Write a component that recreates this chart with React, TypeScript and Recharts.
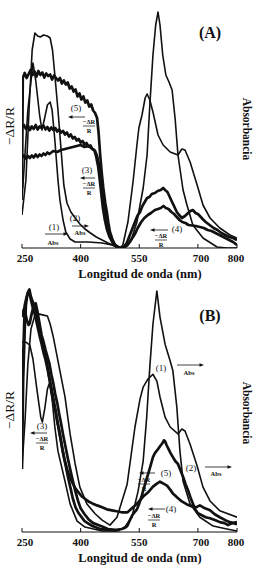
import React from 'react';
import { LineChart, Line, XAxis, YAxis } from 'recharts';

// ---------- data (wavelength nm, signal in arbitrary units) ----------
const xTicks = [250, 400, 550, 700, 800];
const yTicks = [1, 2, 3, 4];

// Panel A
const a1Abs: [number, number][] = [[250,1.06],[265,2.86],[278,3.8],[285,3.46],[295,2.76],[301,2.46],[308,2.7],[315,2.96],[322,3.02],[327,2.86],[334,2.26],[342,1.46],[347,1.06],[355,0.66],[362,0.42],[373,0.28],[386,0.22],[420,0.22],[455,0.2],[480,0.16],[500,0.1],[513,0.12],[521,0.16],[531,0.3],[544,0.62],[552,0.96],[560,1.3],[570,1.96],[577,2.96],[585,3.96],[592,4.56],[598,4.82],[603,4.56],[610,3.96],[618,3.56],[626,3.42],[634,3.26],[642,2.66],[649,1.96],[662,1.26],[672,0.96],[687,0.56],[713,0.3],[749,0.12],[774,0.1],[800,0.1]];
const a2Abs: [number, number][] = [[250,0.76],[260,1.46],[268,2.86],[276,4.06],[283,4.4],[290,4.34],[297,4.32],[305,4.36],[315,4.34],[322,4.3],[328,4.06],[334,3.56],[342,2.86],[350,2.06],[357,1.36],[365,1.0],[375,0.82],[386,0.7],[398,0.58],[411,0.48],[425,0.4],[440,0.32],[455,0.26],[470,0.2],[488,0.14],[500,0.1],[508,0.16],[521,0.62],[534,1.42],[544,2.16],[549,2.5],[557,2.76],[565,3.1],[570,3.18],[577,3.06],[585,2.82],[598,2.36],[611,2.16],[629,2.02],[649,1.96],[659,2.08],[667,2.06],[680,1.82],[698,1.36],[713,0.96],[731,0.7],[756,0.5],[782,0.36],[800,0.3]];
const a3Refl: [number, number][] = [[250,2.5],[255,2.56],[260,2.48],[265,2.55],[270,2.46],[275,2.53],[280,2.48],[285,2.56],[290,2.47],[295,2.53],[300,2.5],[305,2.55],[310,2.47],[315,2.52],[320,2.45],[325,2.51],[330,2.46],[335,2.5],[340,2.43],[345,2.47],[350,2.41],[355,2.44],[360,2.37],[365,2.41],[370,2.33],[375,2.37],[380,2.29],[385,2.32],[390,2.25],[395,2.28],[400,2.21],[405,2.24],[410,2.17],[415,2.2],[420,2.13],[425,2.15],[430,2.08],[435,2.06],[440,1.92],[445,1.72],[449,1.46],[453,1.18],[457,0.9],[462,0.66],[467,0.48],[474,0.32],[482,0.2],[490,0.14],[500,0.1]];
const a4Refl: [number, number][] = [[250,1.9],[255,1.95],[260,1.89],[265,1.94],[270,1.9],[275,1.95],[280,1.91],[285,1.97],[290,1.92],[295,1.97],[300,1.94],[305,1.99],[310,1.96],[315,2.01],[320,1.98],[330,2.04],[340,2.02],[350,2.06],[360,2.08],[370,2.1],[380,2.12],[390,2.14],[400,2.16],[410,2.12],[420,2.14],[430,2.08],[437,2.04],[442,1.94],[447,1.76],[451,1.54],[455,1.28],[459,1.02],[464,0.78],[470,0.52],[476,0.34],[484,0.2],[492,0.12],[500,0.1],[513,0.12],[520,0.16],[526,0.22],[532,0.3],[539,0.38],[546,0.5],[555,0.62],[563,0.7],[572,0.76],[580,0.8],[590,0.86],[598,0.88],[605,0.9],[612,0.94],[618,0.9],[625,0.88],[632,0.82],[639,0.78],[646,0.72],[653,0.66],[660,0.62],[668,0.6],[676,0.56],[685,0.55],[695,0.54],[705,0.52],[715,0.5],[725,0.46],[735,0.44],[745,0.4],[760,0.34],[775,0.28],[790,0.22],[800,0.16]];
const a5Refl: [number, number][] = [[250,1.3],[252,3.5],[257,3.6],[262,3.5],[267,3.58],[272,3.66],[277,3.56],[282,3.63],[287,3.53],[292,3.64],[297,3.56],[302,3.61],[307,3.51],[312,3.59],[317,3.54],[322,3.57],[327,3.47],[332,3.55],[337,3.5],[342,3.45],[347,3.5],[352,3.39],[357,3.45],[362,3.37],[367,3.41],[372,3.29],[377,3.33],[382,3.23],[387,3.27],[392,3.13],[397,3.19],[402,3.07],[407,3.13],[412,3.01],[417,3.05],[422,2.93],[427,2.97],[432,2.85],[437,2.8],[442,2.7],[446,2.4],[450,1.96],[454,1.6],[458,1.3],[463,1.0],[467,0.82],[471,0.6],[475,0.42],[481,0.28],[488,0.16],[500,0.1],[510,0.12],[518,0.2],[526,0.36],[532,0.48],[539,0.62],[545,0.74],[552,0.82],[558,0.94],[564,1.02],[570,1.1],[576,1.12],[582,1.18],[590,1.2],[597,1.24],[605,1.26],[611,1.3],[616,1.26],[622,1.22],[628,1.12],[634,1.02],[640,0.92],[646,0.82],[652,0.76],[659,0.7],[667,0.74],[675,0.8],[681,0.84],[687,0.86],[694,0.8],[700,0.78],[705,0.74],[712,0.68],[720,0.62],[730,0.56],[740,0.5],[750,0.46],[760,0.4],[770,0.36],[780,0.32],[790,0.3],[800,0.26]];

// Panel B
const b1Abs: [number, number][] = [[250,3.85],[260,3.85],[270,3.79],[278,3.51],[288,2.9],[298,2.33],[302,2.23],[308,2.49],[315,2.9],[320,3.02],[327,2.7],[334,2.13],[342,1.64],[360,1.03],[373,0.57],[391,0.22],[411,0.1],[455,0.02],[490,0.02],[505,0.06],[515,0.12],[531,0.3],[547,0.83],[560,1.44],[569,2.33],[577,3.35],[585,4.22],[595,4.89],[603,4.36],[616,3.81],[629,3.47],[636,3.27],[646,2.54],[654,1.64],[662,1.03],[680,0.57],[705,0.3],[739,0.12],[774,0.06],[800,0.02]];
const b2Abs: [number, number][] = [[250,1.32],[258,2.29],[265,3.41],[273,4.12],[283,4.4],[295,4.42],[305,4.4],[315,4.38],[322,4.22],[330,3.96],[342,3.47],[360,2.74],[373,1.99],[386,1.38],[398,0.91],[416,0.57],[437,0.37],[455,0.24],[475,0.14],[493,0.3],[519,0.97],[539,2.13],[552,2.7],[560,2.94],[572,3.1],[585,3.2],[595,3.06],[603,2.74],[616,2.33],[629,2.13],[649,1.99],[659,2.09],[667,2.05],[680,1.78],[698,1.34],[713,0.91],[731,0.63],[756,0.43],[800,0.3]];
const b3Refl: [number, number][] = [[250,1.28],[253,3.1],[257,4.12],[260,4.6],[263,4.78],[266,4.86],[269,4.92],[272,4.8],[276,4.7],[280,4.62],[284,4.5],[288,4.38],[292,4.18],[296,4.08],[300,3.9],[305,3.78],[310,3.56],[315,3.38],[320,3.12],[325,2.9],[330,2.64],[335,2.48],[340,2.24],[345,2.06],[350,1.84],[355,1.6],[362,1.34],[368,1.1],[375,0.86],[380,0.68],[387,0.5],[395,0.38],[410,0.22],[430,0.12],[450,0.06],[480,0.04],[500,0.04]];
const b4Refl: [number, number][] = [[250,2.9],[254,3.8],[257,4.6],[261,4.74],[265,4.86],[268,4.9],[272,4.74],[276,4.6],[280,4.5],[285,4.34],[290,4.16],[295,3.98],[300,3.82],[305,3.64],[310,3.5],[315,3.32],[320,3.12],[325,2.92],[330,2.72],[335,2.5],[340,2.28],[346,2.0],[352,1.74],[358,1.5],[365,1.28],[372,1.12],[380,0.98],[387,0.88],[395,0.8],[403,0.72],[410,0.68],[420,0.62],[430,0.58],[442,0.54],[455,0.5],[467,0.46],[480,0.44],[492,0.42],[505,0.4],[520,0.4],[534,0.5],[547,0.6],[560,0.72],[572,0.8],[585,0.92],[595,0.98],[603,1.02],[612,0.98],[621,0.94],[629,0.86],[636,0.78],[647,0.7],[659,0.62],[672,0.56],[685,0.52],[695,0.5],[705,0.54],[718,0.48],[731,0.44],[743,0.36],[756,0.3],[770,0.24],[782,0.2],[800,0.16]];
const b5Refl: [number, number][] = [[250,4.36],[254,4.5],[257,4.56],[260,4.38],[263,4.28],[267,4.2],[270,4.24],[274,4.4],[278,4.54],[282,4.62],[285,4.64],[289,4.5],[292,4.36],[296,4.18],[300,4.0],[305,3.86],[310,3.7],[315,3.56],[320,3.42],[325,3.2],[330,3.02],[335,2.8],[340,2.62],[345,2.4],[350,2.2],[355,1.98],[360,1.78],[366,1.54],[373,1.28],[380,1.04],[386,0.84],[393,0.64],[400,0.48],[410,0.36],[420,0.26],[432,0.18],[445,0.14],[458,0.1],[470,0.06],[490,0.04],[505,0.06],[512,0.08],[519,0.12],[526,0.24],[532,0.34],[538,0.4],[544,0.46],[550,0.58],[556,0.72],[560,0.84],[566,1.0],[572,1.16],[578,1.32],[585,1.52],[590,1.6],[596,1.66],[603,1.74],[609,1.8],[613,1.86],[616,1.84],[620,1.76],[625,1.68],[630,1.6],[636,1.52],[642,1.44],[649,1.38],[655,1.26],[662,1.12],[668,0.98],[675,0.84],[681,0.7],[687,0.58],[693,0.46],[700,0.38],[710,0.34],[720,0.3],[731,0.28],[745,0.24],[756,0.2],[768,0.18],[777,0.14],[788,0.18],[800,0.2]];

// ---------- presentation ----------
const SERIF = "'Liberation Serif','Times New Roman',serif";
const INK = '#111';

type Pt = { x: number; v: number };
const toPts = (arr: [number, number][]): Pt[] => arr.map(([x, v]) => ({ x, v }));

const XTick = (props: any) => {
  const { x, y, payload } = props;
  const shift = payload.value === 250 ? 3 : payload.value === 700 ? 3 : payload.value === 800 ? -1 : 0;
  return (
    <text x={x + shift} y={y} dy="0.71em" textAnchor="middle" fontFamily={SERIF} fontWeight="bold" fontSize={11} fill={INK}>
      {payload.value}
    </text>
  );
};
const NoTick = () => <g />;

type Series = { data: Pt[]; noisy: boolean };

function Panel({ series, yDomain, top }: { series: Series[]; yDomain: [number, number]; top: number }) {
  return (
    <LineChart width={257} height={284} margin={{ top, right: 20, bottom: 0, left: 22 }}>
      <XAxis xAxisId="b" type="number" dataKey="x" domain={[250, 800]} ticks={xTicks} interval={0}
        allowDataOverflow height={36} tickSize={-4} tickMargin={10} tick={XTick} stroke={INK} />
      <XAxis xAxisId="t" orientation="top" type="number" dataKey="x" domain={[250, 800]} ticks={xTicks} interval={0}
        allowDataOverflow height={0} tickSize={-4} tick={NoTick} stroke={INK} />
      <YAxis yAxisId="l" type="number" domain={yDomain} ticks={yTicks} interval={0} allowDataOverflow
        width={0} tickSize={-4} tick={NoTick} stroke={INK} />
      <YAxis yAxisId="r" orientation="right" type="number" domain={yDomain} ticks={yTicks} interval={0} allowDataOverflow
        width={0} tickSize={-4} tick={NoTick} stroke={INK} />
      {series.map((s, i) => (
        <Line key={i} xAxisId="b" yAxisId="l" data={s.data} dataKey="v" type="linear" dot={false}
          stroke={INK} strokeWidth={s.noisy ? 2.7 : 1.6} strokeLinejoin="round" isAnimationActive={false} />
      ))}
    </LineChart>
  );
}

const Arrow = ({ x1, x2, y }: { x1: number; x2: number; y: number }) => {
  const d = Math.sign(x2 - x1);
  return (
    <g>
      <line x1={x1} y1={y} x2={x2 - d * 3} y2={y} stroke={INK} strokeWidth={0.8} />
      <polygon points={`${x2},${y} ${x2 - d * 4.5},${y - 1.8} ${x2 - d * 4.5},${y + 1.8}`} fill={INK} />
    </g>
  );
};
const Frac = ({ x, y }: { x: number; y: number }) => (
  <g fontFamily={SERIF} fontWeight="bold" fontSize={6.5} fill={INK} textAnchor="middle">
    <text x={x} y={y}>−ΔR</text>
    <line x1={x - 6} x2={x + 6} y1={y + 2} y2={y + 2} stroke={INK} strokeWidth={0.7} />
    <text x={x} y={y + 9}>R</text>
  </g>
);
const Num = ({ x, y, t }: { x: number; y: number; t: string }) => (
  <text x={x} y={y} fontFamily={SERIF} fontSize={9} textAnchor="middle" fill={INK}>{t}</text>
);
const AbsT = ({ x, y }: { x: number; y: number }) => (
  <text x={x} y={y} fontFamily={SERIF} fontWeight="bold" fontSize={6.5} textAnchor="middle" fill={INK}>Abs</text>
);

function PanelText({ oy, letter, lc }: { oy: number; letter: string; lc: number }) {
  return (
    <g>
      <text x={210} y={oy + lc} fontFamily={SERIF} fontWeight="bold" fontSize={16} textAnchor="middle" fill={INK}>{letter}</text>
      <text x={0} y={0} transform={`translate(14, ${oy + 126}) rotate(-90)`} fontFamily={SERIF} fontSize={13.5} textAnchor="middle" fill={INK}>−ΔR/R</text>
      <text x={0} y={0} transform={`translate(243, ${oy + 129}) rotate(90)`} fontFamily={SERIF} fontWeight="bold" fontSize={11.5} textAnchor="middle" fill={INK}>Absorbancia</text>
      <text x={140} y={oy + 278} fontFamily={SERIF} fontWeight="bold" fontSize={12.5} textAnchor="middle" fill={INK}>Longitud de onda (nm)</text>
    </g>
  );
}

export default function App() {
  const seriesA: Series[] = [
    { data: toPts(a1Abs), noisy: false },
    { data: toPts(a2Abs), noisy: false },
    { data: toPts(a3Refl), noisy: true },
    { data: toPts(a4Refl), noisy: true },
    { data: toPts(a5Refl), noisy: true },
  ];
  const seriesB: Series[] = [
    { data: toPts(b1Abs), noisy: false },
    { data: toPts(b2Abs), noisy: false },
    { data: toPts(b3Refl), noisy: true },
    { data: toPts(b4Refl), noisy: true },
    { data: toPts(b5Refl), noisy: true },
  ];
  return (
    <div style={{ position: 'absolute', left: 0, top: 0, width: 257, height: 568, background: '#fff' }}>
      <div style={{ position: 'absolute', left: 0, top: 0 }}>
        <Panel series={seriesA} yDomain={[0.1, 4.92]} top={7} />
      </div>
      <div style={{ position: 'absolute', left: 0, top: 284 }}>
        <Panel series={seriesB} yDomain={[0, 4.95]} top={4} />
      </div>
      <svg width={257} height={568} style={{ position: 'absolute', left: 0, top: 0, pointerEvents: 'none' }}>
        <PanelText oy={0} letter="(A)" lc={38} />
        <PanelText oy={284} letter="(B)" lc={37} />
        {/* Panel A annotations */}
        <Num x={76} y={111} t="(5)" />
        <Arrow x1={85} x2={68} y={117} />
        <Frac x={89} y={124} />
        <Num x={87} y={173} t="(3)" />
        <Arrow x1={95} x2={80} y={178} />
        <Frac x={89} y={186} />
        <Num x={54} y={230} t="(1)" />
        <Arrow x1={45} x2={68} y={234} />
        <AbsT x={53} y={245} />
        <Num x={75} y={221} t="(2)" />
        <Arrow x1={72} x2={89} y={226} />
        <AbsT x={80} y={235} />
        <Num x={177} y={232} t="(4)" />
        <Arrow x1={168} x2={150} y={230} />
        <Frac x={161} y={238} />
        {/* Panel B annotations */}
        <Num x={42} y={429} t="(3)" />
        <Arrow x1={47} x2={30} y={433} />
        <Frac x={42} y={441} />
        <Num x={161} y={371} t="(1)" />
        <Arrow x1={177} x2={204} y={365} />
        <AbsT x={189} y={375} />
        <Num x={191} y={471} t="(2)" />
        <Arrow x1={205} x2={232} y={467} />
        <AbsT x={216} y={476} />
        <Num x={166} y={476} t="(5)" />
        <Arrow x1={155} x2={139} y={473} />
        <Frac x={144} y={482} />
        <Num x={171} y={512} t="(4)" />
        <Arrow x1={165} x2={148} y={509} />
        <Frac x={154} y={518} />
      </svg>
    </div>
  );
}
